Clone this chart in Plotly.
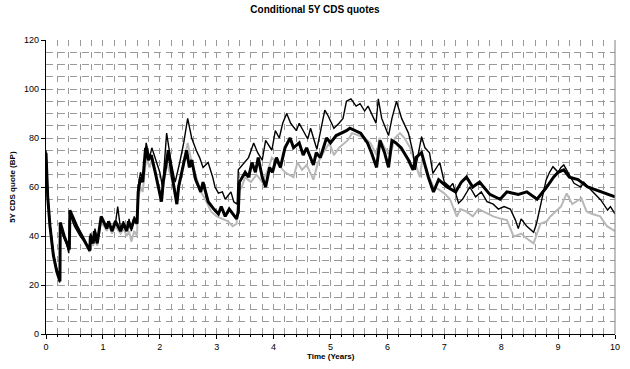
import plotly.graph_objects as go

# ---- data ----
thick_t = [0, 0.03, 0.07, 0.13, 0.19, 0.245, 0.25, 0.32, 0.41, 0.42, 0.54, 0.66, 0.77, 0.78, 0.83, 0.85, 0.9, 0.97,
           1.07, 1.1, 1.16, 1.22, 1.31, 1.36, 1.42, 1.45, 1.5, 1.55, 1.6, 1.62, 1.66, 1.7, 1.75, 1.8, 1.85, 1.92,
           2.03, 2.06, 2.1, 2.15, 2.22, 2.3, 2.33, 2.4, 2.47, 2.52, 2.56, 2.63, 2.72, 2.76, 2.85, 2.95, 3.03, 3.08,
           3.15, 3.22, 3.28, 3.35, 3.38, 3.4, 3.5, 3.56, 3.62, 3.68, 3.73, 3.8, 3.86, 3.93, 3.98, 4.05, 4.12, 4.2,
           4.29, 4.35, 4.45, 4.52, 4.58, 4.7, 4.75, 4.82, 4.93, 5.0, 5.1, 5.2, 5.28, 5.34, 5.45, 5.53, 5.65, 5.72,
           5.81, 5.87, 5.95, 6.02, 6.08, 6.15, 6.24, 6.37, 6.45, 6.5, 6.6, 6.72, 6.81, 6.9, 7.05, 7.2, 7.3, 7.39,
           7.5, 7.62, 7.8, 7.98, 8.1, 8.3, 8.45, 8.63, 8.8, 8.92, 9.0, 9.1, 9.2, 9.35, 9.52, 9.76, 10.0]
thick_v = [74, 56, 44, 32, 25.5, 21.5, 45.5, 40, 34.5, 50.5, 44, 38.5, 34, 40, 37, 42, 37, 48,
           43, 46, 42, 46, 42, 45, 42, 46, 43, 47, 45, 58, 64, 62, 76, 71, 73, 66,
           54, 62, 68, 75, 64, 53, 60, 68, 75, 68, 71, 63, 58, 62, 54, 51, 49, 52,
           48, 51, 49, 47, 50, 62, 66, 64, 70, 66, 72, 64, 60, 68, 66, 72, 68, 76,
           80, 76, 78, 73, 76, 69, 74, 72, 80, 78, 81, 82, 83, 84, 83, 82, 78, 74,
           68, 79, 74, 68, 79, 78, 76, 71, 67, 72, 74, 64, 58, 63, 60, 58, 62, 64,
           60, 62, 57, 55, 58, 57, 58, 55, 60, 64, 66, 67, 64, 63, 60, 58, 56]

thin_t = [0, 0.03, 0.07, 0.13, 0.19, 0.23, 0.24, 0.25, 0.3, 0.36, 0.4, 0.42, 0.5, 0.6, 0.7, 0.76, 0.78, 0.84, 0.86,
          0.91, 0.97, 1.05, 1.1, 1.16, 1.22, 1.26, 1.31, 1.36, 1.42, 1.46, 1.5, 1.55, 1.6, 1.62, 1.66, 1.7, 1.76,
          1.82, 1.86, 1.92, 2.0, 2.05, 2.12, 2.2, 2.27, 2.35, 2.42, 2.49, 2.56, 2.64, 2.7, 2.76, 2.85, 2.93, 2.97,
          3.03, 3.1, 3.15, 3.25, 3.3, 3.36, 3.38, 3.48, 3.56, 3.65, 3.72, 3.8, 3.86, 3.97, 4.03, 4.1, 4.16, 4.23,
          4.3, 4.4, 4.45, 4.6, 4.65, 4.76, 4.84, 4.9, 4.96, 5.0, 5.06, 5.15, 5.22, 5.28, 5.36, 5.45, 5.52, 5.6,
          5.66, 5.76, 5.8, 5.84, 5.9, 6.02, 6.08, 6.16, 6.25, 6.37, 6.45, 6.49, 6.55, 6.6, 6.66, 6.74, 6.8, 6.86,
          6.92, 7.0, 7.1, 7.15, 7.25, 7.32, 7.45, 7.55, 7.65, 7.75, 7.86, 7.95, 8.05, 8.16, 8.25, 8.3, 8.35, 8.45,
          8.57, 8.62, 8.69, 8.75, 8.79, 8.85, 8.91, 9.0, 9.05, 9.1, 9.2, 9.28, 9.4, 9.45, 9.57, 9.65, 9.75, 9.87,
          9.92, 10.0]
thin_v = [75, 57, 45, 33, 26, 23, 21, 44, 40, 37, 33, 49, 44, 40, 37, 35, 41, 38, 43,
          38, 47, 44, 46, 42, 45, 52, 43, 46, 42, 47, 42, 48, 45, 60, 66, 63, 78,
          72, 76, 72, 66, 60, 82, 70, 62, 70, 78, 88, 80, 75, 72, 68, 70, 64, 60,
          57.5, 58, 55, 58, 54, 53, 67, 70, 72, 78, 74, 71, 79, 75, 83, 80, 86, 90,
          86, 83, 86, 79.6, 84, 75.4, 84, 91.4, 89, 87, 84, 86, 88, 95, 96, 93, 94, 91,
          93, 88, 86, 96, 88, 81, 88, 95, 88, 82, 74, 67, 75, 80.5, 76, 74, 65.6, 68,
          70, 62, 60, 61.5, 53.4, 55, 60, 56, 58, 54, 53, 51, 52, 51, 46.5, 43, 47, 44,
          41.5, 45, 52, 58, 62.9, 66, 68.3, 66, 68, 69, 65, 61.5, 60, 62, 59, 57, 54.7, 50.6,
          52, 49]

gray_t = [0, 0.03, 0.07, 0.13, 0.19, 0.24, 0.25, 0.32, 0.41, 0.42, 0.54, 0.66, 0.77, 0.78, 0.83, 0.85, 0.9, 0.97,
          1.07, 1.1, 1.16, 1.22, 1.31, 1.36, 1.42, 1.46, 1.5, 1.55, 1.6, 1.62, 1.66, 1.7, 1.76, 1.82, 1.86, 1.92,
          2.03, 2.06, 2.12, 2.2, 2.3, 2.35, 2.42, 2.49, 2.56, 2.64, 2.72, 2.8, 2.9, 3.0, 3.1, 3.2, 3.28, 3.35,
          3.38, 3.44, 3.5, 3.6, 3.7, 3.8, 3.9, 3.97, 4.05, 4.12, 4.2, 4.35, 4.42, 4.5, 4.58, 4.7, 4.78, 4.9,
          4.98, 5.06, 5.15, 5.3, 5.38, 5.5, 5.6, 5.7, 5.81, 5.86, 5.95, 6.05, 6.13, 6.22, 6.3, 6.4, 6.57, 6.62,
          6.7, 6.81, 6.9, 7.0, 7.1, 7.22, 7.28, 7.39, 7.5, 7.6, 7.68, 7.86, 8.0, 8.1, 8.22, 8.35, 8.45, 8.57,
          8.69, 8.8, 8.86, 8.95, 9.05, 9.15, 9.25, 9.41, 9.5, 9.6, 9.74, 9.86, 10.0]
gray_v = [74, 56, 44, 32, 25, 22, 45, 39, 34, 49, 43, 38, 33.5, 39, 36, 41, 36, 46,
          42, 45, 41, 44, 41, 43, 40, 42, 37.7, 42, 40, 55, 60, 58, 72, 68, 71, 66,
          55, 60, 70, 64, 55, 62, 70, 78, 70, 64, 58, 55, 50, 48, 47, 46, 44, 45,
          58, 60, 64, 62, 65, 62, 67, 72, 70, 68, 66, 64, 70, 67, 69, 63, 70, 75,
          78, 73, 76, 79, 82, 81, 80, 78, 73, 80, 76, 73, 80, 82, 80, 76, 64, 72,
          66, 60, 59, 57.4, 55, 47.9, 51, 50, 48, 51, 50, 48, 47, 46.5, 39.7, 41, 39, 37,
          45, 46, 47.9, 50, 52, 57.4, 53, 55.4, 50, 49, 48, 44, 42]

x_ticks = [0, 1, 2, 3, 4, 5, 6, 7, 8, 9, 10]
y_ticks = [0, 20, 40, 60, 80, 100, 120]

FONT = "Liberation Sans, Arial, sans-serif"
GRID = "#9a9a9a"

fig = go.Figure()
fig.add_trace(go.Scatter(x=gray_t, y=gray_v, mode="lines",
                         line=dict(color="#b8b8b8", width=2), name="gray"))
fig.add_trace(go.Scatter(x=thin_t, y=thin_v, mode="lines",
                         line=dict(color="#000000", width=1.4), name="thin"))
fig.add_trace(go.Scatter(x=thick_t, y=thick_v, mode="lines",
                         line=dict(color="#000000", width=3), name="thick"))

fig.update_layout(
    width=630, height=369,
    margin=dict(l=46, r=15, t=40, b=35, autoexpand=False),
    paper_bgcolor="white", plot_bgcolor="white",
    showlegend=False,
    title=dict(text="<b>Conditional 5Y CDS quotes</b>", x=0.5, xref="container",
               y=0.973, yanchor="middle", font=dict(family=FONT, size=10, color="#000")),
    font=dict(family=FONT, size=9, color="#000"),
    annotations=[
        dict(text="<b>Time (Years)</b>", xref="paper", yref="paper", x=0.5, y=-0.078,
             xanchor="center", yanchor="middle", showarrow=False,
             font=dict(family=FONT, size=8, color="#000")),
        dict(text="<b>5Y CDS quote (BP)</b>", xref="paper", yref="paper", x=-0.06, y=0.5,
             xanchor="center", yanchor="middle", textangle=-90, showarrow=False,
             font=dict(family=FONT, size=8, color="#000")),
    ],
)
fig.update_xaxes(
    automargin=False,
    range=[0, 10], tickvals=x_ticks, ticktext=[str(v) for v in x_ticks],
    showline=True, linecolor="#000", linewidth=1.2,
    ticks="outside", ticklen=4, tickcolor="#000",
    showgrid=True, gridcolor=GRID, gridwidth=1, griddash="6px,6px",
    minor=dict(dtick=0.2, showgrid=True, gridcolor=GRID, gridwidth=1, griddash="6px,6px",
               ticks="outside", ticklen=2, tickcolor="#000"),
    zeroline=False,
    tickfont=dict(family=FONT, size=9, color="#000"),
)
fig.update_yaxes(
    automargin=False,
    range=[0, 120], tickvals=y_ticks, ticktext=[str(v) for v in y_ticks],
    showline=True, linecolor="#000", linewidth=1.2,
    ticks="outside", ticklen=4, tickcolor="#000",
    showgrid=True, gridcolor=GRID, gridwidth=1, griddash="7px,5px",
    minor=dict(dtick=5, showgrid=True, gridcolor=GRID, gridwidth=1, griddash="7px,5px"),
    zeroline=False,
    tickfont=dict(family=FONT, size=9, color="#000"),
)
# right border of plot area
fig.add_shape(type="line", xref="paper", yref="paper", x0=1, x1=1, y0=0, y1=1,
              line=dict(color="#808080", width=1))

# remove the default page margin so the figure sits at the window's top-left corner
fig.write_html("out.html", config={"displayModeBar": False},
               post_script="document.body.style.margin='0';")
